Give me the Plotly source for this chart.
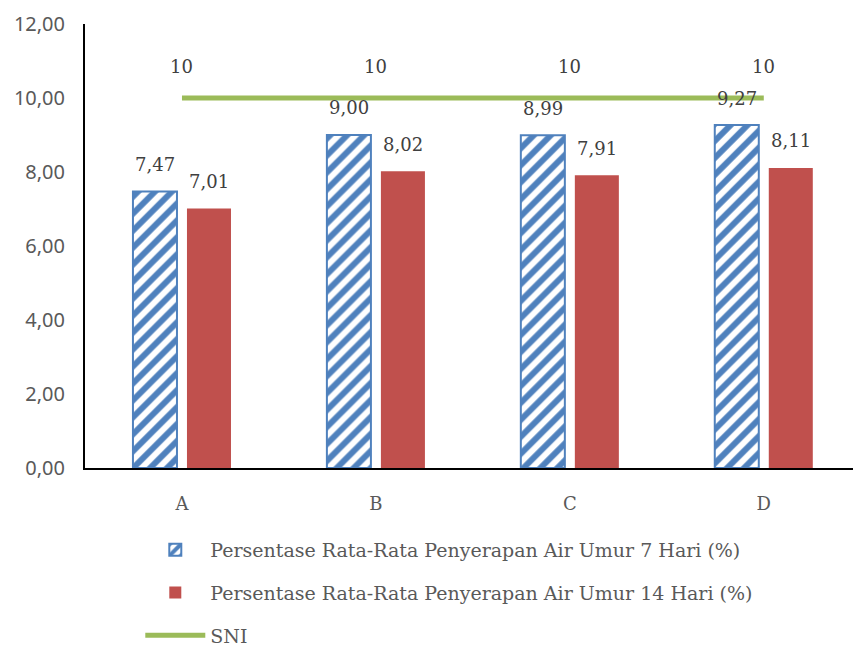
import plotly.graph_objects as go

categories = ["A", "B", "C", "D"]
umur_7 = [7.47, 9.00, 8.99, 9.27]
umur_14 = [7.01, 8.02, 7.91, 8.11]
sni = [10, 10, 10, 10]

name_7 = "Persentase Rata-Rata Penyerapan Air Umur 7 Hari (%)"
name_14 = "Persentase Rata-Rata Penyerapan Air Umur 14 Hari (%)"
name_sni = "SNI"

BLUE = "#4F81BD"
RED = "#C0504D"
GREEN = "#9BBB59"
SERIF = "DejaVu Serif"
SANS = "Noto Sans"


def fmt(v):
    return f"{v:.2f}".replace(".", ",")


fig = go.Figure()
fig.add_trace(go.Bar(
    x=categories, y=umur_7, name=name_7, legendgroup="g1",
    marker=dict(color="white", line=dict(color=BLUE, width=2),
                pattern=dict(shape="/", fgcolor=BLUE, bgcolor="white",
                             fgopacity=1, size=12, solidity=0.5)),
))
fig.add_trace(go.Bar(
    x=categories, y=umur_14, name=name_14, legendgroup="g2",
    marker=dict(color=RED, line=dict(width=0)),
))
fig.add_trace(go.Scatter(
    x=categories, y=sni, name=name_sni, legendgroup="g3", mode="lines",
    line=dict(color=GREEN, width=5),
))

label_font = dict(family=SERIF, size=18, color="#404040")
annotations = []
for c, v in zip(categories, umur_7):
    annotations.append(dict(x=c, y=v, text=fmt(v), showarrow=False, xshift=-27,
                            yshift=27, font=label_font))
for c, v in zip(categories, umur_14):
    annotations.append(dict(x=c, y=v, text=fmt(v), showarrow=False, xshift=27,
                            yshift=27, font=label_font))
for c, v in zip(categories, sni):
    annotations.append(dict(x=c, y=v, text=str(v), showarrow=False,
                            yshift=32, font=label_font))

fig.update_layout(
    width=853, height=648,
    margin=dict(l=85, r=0, t=24, b=0, autoexpand=False),
    paper_bgcolor="white", plot_bgcolor="white",
    separators=",.",
    barmode="group", bargap=0.443, bargroupgap=0.185,
    annotations=annotations,
    showlegend=True,
    legend=dict(orientation="v", x=0.072, y=0.1875, xanchor="left", yanchor="top",
                traceorder="grouped", tracegroupgap=15,
                font=dict(family=SERIF, size=19, color="#595959"),
                itemwidth=60),
    xaxis=dict(range=[-0.5, 3.46], showline=True, linecolor="black", linewidth=2,
               ticks="", showgrid=False, ticklabelstandoff=18,
               tickfont=dict(family=SERIF, size=18, color="#595959")),
    yaxis=dict(range=[0, 12], dtick=2, tickformat=".2f", showline=True,
               domain=[0.2885, 1],
               linecolor="black", linewidth=2, ticks="", showgrid=False,
               zeroline=False, ticklabelstandoff=14,
               tickfont=dict(family=SANS, size=20, color="#595959")),
)

fig.write_html("out.html")
